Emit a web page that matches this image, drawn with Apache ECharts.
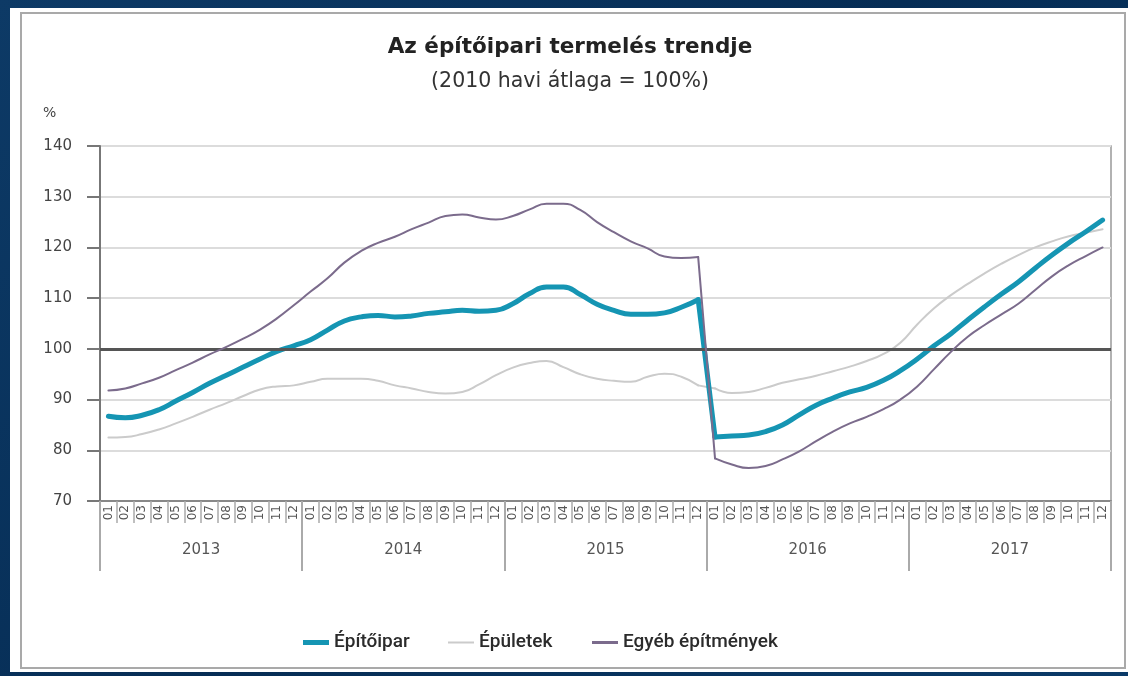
<!DOCTYPE html>
<html>
<head>
<meta charset="utf-8">
<script src="https://cdn.jsdelivr.net/npm/echarts@6/dist/echarts.min.js"></script>
<style>
html,body{margin:0;padding:0;width:1128px;height:676px;overflow:hidden;
background:linear-gradient(135deg,#0d3a66 0%,#062d55 50%,#0a3a68 100%);}
#chart{position:absolute;left:0;top:0;width:1128px;height:676px;}
</style>
</head>
<body>
<div id="chart"></div>
<script>
// ---- data ----
const years = ['2013', '2014', '2015', '2016', '2017'];
const monthLabels = ['01','02','03','04','05','06','07','08','09','10','11','12'];
const categories = [];
years.forEach(y => monthLabels.forEach(m => categories.push(y + '-' + m)));

const seriesNames = ['Építőipar', 'Épületek', 'Egyéb építmények'];

const epitoipar = [
  86.7, 86.4, 86.9, 88.0, 89.7, 91.4, 93.2, 94.8, 96.4, 98.0, 99.5, 100.6,
  101.8, 103.7, 105.5, 106.3, 106.6, 106.3, 106.5, 107.0, 107.3, 107.6, 107.4, 107.6,
  108.9, 110.9, 112.2, 112.2, 110.7, 108.8, 107.6, 106.8, 106.8, 107.1, 108.2, 109.7,
  82.6, 82.8, 83.0, 83.7, 85.0, 87.0, 88.9, 90.3, 91.5, 92.4, 93.8, 95.7,
  98.0, 100.6, 103.0, 105.7, 108.3, 110.8, 113.2, 115.9, 118.5, 120.9, 123.1, 125.4
];
const epuletek = [
  82.5, 82.6, 83.2, 84.1, 85.3, 86.6, 88.0, 89.3, 90.7, 92.0, 92.6, 92.8,
  93.5, 94.1, 94.1, 94.1, 93.7, 92.8, 92.2, 91.5, 91.2, 91.5, 93.0, 94.8,
  96.3, 97.2, 97.6, 96.4, 95.0, 94.1, 93.7, 93.5, 94.5, 95.1, 94.5, 92.8,
  92.2, 91.3, 91.5, 92.3, 93.3, 94.0, 94.7, 95.6, 96.5, 97.6, 99.0, 101.2,
  104.8, 108.0, 110.6, 112.8, 114.9, 116.8, 118.5, 120.0, 121.2, 122.2, 122.9, 123.6
];
const egyeb = [
  91.8, 92.2, 93.2, 94.3, 95.8, 97.3, 98.9, 100.4, 102.0, 103.8, 106.0, 108.6,
  111.3, 113.9, 117.0, 119.3, 120.9, 122.1, 123.6, 124.9, 126.2, 126.5, 125.9, 125.5,
  126.2, 127.5, 128.6, 128.6, 127.4, 125.0, 123.0, 121.2, 119.8, 118.2, 117.9, 118.1,
  78.4, 77.2, 76.5, 76.9, 78.2, 79.8, 81.8, 83.7, 85.3, 86.6, 88.1, 90.0,
  92.6, 96.0, 99.4, 102.4, 104.7, 106.8, 108.9, 111.6, 114.3, 116.5, 118.3, 120.0
];
const yTicks = { min: 70, max: 140, interval: 10 };
const baseline = 100;
const breakIndex = 36; // series re-based from 2016-01 (index of first point after the break)

const colTeal = '#1595b3', colGray = '#cbcbcb', colPurple = '#7b6b8c';

const chart = echarts.init(document.getElementById('chart'), null, { renderer: 'canvas' });
const font = 'Roboto, "Liberation Sans", Arial, sans-serif';
const wideFont = '"DejaVu Sans", "Liberation Sans", Arial, sans-serif';

// split each series into smooth parts before/after the break and a straight connecting segment
function parts(name, data, color, width, z) {
  const before = data.map((v, i) => (i < breakIndex ? v : null));
  const after = data.map((v, i) => (i >= breakIndex ? v : null));
  const link = data.map((v, i) => (i === breakIndex - 1 || i === breakIndex ? v : null));
  const base = { type: 'line', name: name, symbol: 'none', z: z,
    lineStyle: { color: color, width: width, cap: 'round', join: 'round' }, itemStyle: { color: color } };
  return [
    Object.assign({}, base, { data: before, smooth: 0.5 }),
    Object.assign({}, base, { data: after, smooth: 0.5 }),
    Object.assign({}, base, { data: link, smooth: false })
  ];
}

const legendText = { fontFamily: font, fontSize: 19, fontWeight: 500, color: '#2b2b2b' };

chart.setOption({
  animation: false,
  textStyle: { fontFamily: font },
  graphic: [
    { type: 'rect', z: -10, shape: { x: 10, y: 8, width: 1118, height: 664 }, style: { fill: '#ffffff' } },
    { type: 'rect', z: -9, shape: { x: 21, y: 13, width: 1104, height: 655 },
      style: { fill: '#ffffff', stroke: '#a9a9a9', lineWidth: 2 } },
    { type: 'text', left: 43, top: 106, style: { text: '%', font: '14px ' + wideFont, fill: '#444' } }
  ],
  title: {
    text: 'Az építőipari termelés trendje',
    subtext: '(2010 havi átlaga = 100%)',
    left: 565, textAlign: 'center', top: 31, itemGap: 13,
    textStyle: { fontFamily: wideFont, fontSize: 21.5, fontWeight: 'bold', color: '#222' },
    subtextStyle: { fontFamily: wideFont, fontSize: 20.5, color: '#333' }
  },
  legend: [
    { data: [{ name: seriesNames[0], icon: 'rect' }], left: 298, top: 628, itemWidth: 26, itemHeight: 5,
      selectedMode: false, textStyle: legendText, itemStyle: { color: colTeal } },
    { data: [{ name: seriesNames[1], icon: 'rect' }], left: 443, top: 628, itemWidth: 26, itemHeight: 2,
      selectedMode: false, textStyle: legendText, itemStyle: { color: colGray } },
    { data: [{ name: seriesNames[2], icon: 'rect' }], left: 587, top: 628, itemWidth: 26, itemHeight: 3,
      selectedMode: false, textStyle: legendText, itemStyle: { color: colPurple } }
  ],
  grid: { left: 100, top: 146, width: 1011, height: 355, show: true, borderColor: '#999', borderWidth: 1.5, backgroundColor: 'transparent' },
  xAxis: [
    {
      type: 'category', data: categories, boundaryGap: true, position: 'bottom',
      axisLine: { show: true, lineStyle: { color: '#888', width: 2 } },
      axisTick: { show: true, interval: 0, length: 22, lineStyle: { color: '#aaa', width: 1.5 } },
      axisLabel: { interval: 0, rotate: 90, margin: 4, fontSize: 12, color: '#555', fontFamily: wideFont,
        formatter: v => v.split('-')[1] }
    },
    {
      type: 'category', data: years, boundaryGap: true, position: 'bottom', gridIndex: 0,
      axisLine: { show: false },
      axisTick: { show: true, interval: 0, length: 70, lineStyle: { color: '#aaa', width: 2 } },
      axisLabel: { margin: 42, fontSize: 15, color: '#555', fontFamily: wideFont }
    }
  ],
  yAxis: {
    type: 'value', min: yTicks.min, max: yTicks.max, interval: yTicks.interval,
    axisLine: { show: true, lineStyle: { color: '#777', width: 2 } },
    axisTick: { show: true, length: 13, lineStyle: { color: '#777', width: 2 } },
    axisLabel: { margin: 28, fontSize: 15, color: '#444', fontFamily: wideFont },
    splitLine: { show: true, lineStyle: { color: '#dcdcdc', width: 2 } }
  },
  series: [
    {
      type: 'line', name: '_base', data: [], z: 1, silent: true,
      markLine: { silent: true, symbol: 'none', label: { show: false },
        lineStyle: { color: '#555', width: 3, type: 'solid' },
        data: [{ yAxis: baseline }] }
    }
  ].concat(
    parts(seriesNames[1], epuletek, colGray, 2, 3),
    parts(seriesNames[0], epitoipar, colTeal, 5, 4),
    parts(seriesNames[2], egyeb, colPurple, 2, 5)
  )
});
</script>
</body>
</html>
